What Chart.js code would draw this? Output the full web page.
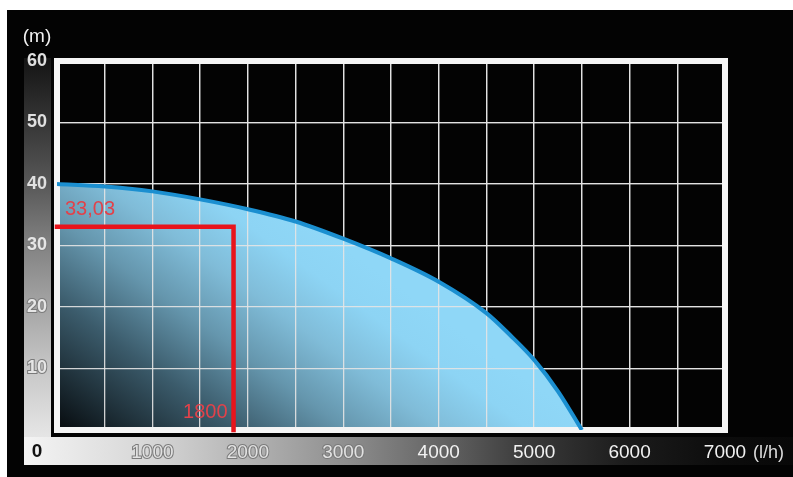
<!DOCTYPE html>
<html><head><meta charset="utf-8">
<script src="https://cdn.jsdelivr.net/npm/chart.js@4.4.1/dist/chart.umd.min.js"></script>
<style>html,body{margin:0;padding:0;background:#fff;}canvas{display:block;}</style>
</head><body>
<canvas id="c" width="793" height="477"></canvas>
<script>
// ---- data ----
const flowLh = [0, 500, 1000, 1500, 2000, 2500, 3000, 3500, 4000, 4500, 4750, 5000, 5250, 5500];
const headM  = [40, 39.6, 38.8, 37.5, 35.9, 33.9, 31.1, 27.9, 24.1, 19.0, 15.4, 11.4, 6.3, 0];
const xTickValues = [0, 1000, 2000, 3000, 4000, 5000, 6000, 7000];
const yTickValues = [0, 10, 20, 30, 40, 50, 60];
const opFlow = 1850;
const opHead = 33.03;
const opFlowLabel = '1800';
const opHeadLabel = '33,03';
const xUnitLabel = '(l/h)';
const yUnitLabel = '(m)';
const xZeroLabel = '0';

const FONT = '"Liberation Sans", Arial, sans-serif';
const curvePoints = flowLh.map((x, i) => ({x: x, y: headM[i]}));
const opPoints = [{x: 0, y: opHead}, {x: opFlow, y: opHead}, {x: opFlow, y: 0}];

function fillGradient(ctx) {
  const chart = ctx.chart; const a = chart.chartArea;
  if (!a) return '#8fd5f4';
  const g = chart.ctx.createLinearGradient(a.left, a.bottom + 10, a.left + 190, a.bottom - 253);
  g.addColorStop(0, '#020406');
  g.addColorStop(0.35, '#3b5b6b');
  g.addColorStop(0.55, '#6596ad');
  g.addColorStop(0.72, '#80bcd8');
  g.addColorStop(0.88, '#8dd4f4');
  g.addColorStop(1, '#8fd7f7');
  return g;
}

const backdrop = {
  id: 'backdrop',
  beforeDraw(chart) {
    const c = chart.ctx, W = chart.width, H = chart.height, a = chart.chartArea;
    c.save();
    c.fillStyle = '#ffffff'; c.fillRect(0, 0, W, H);
    c.fillStyle = '#030303'; c.fillRect(7, 10, W - 7, H - 10);
    // vertical gradient bar
    const top = a.top - 3, bot = a.bottom + 35;
    const yg = c.createLinearGradient(0, top, 0, bot);
    yg.addColorStop(0, '#141414');
    yg.addColorStop(0.16, '#363636');
    yg.addColorStop(0.31, '#585858');
    yg.addColorStop(0.46, '#828282');
    yg.addColorStop(0.61, '#a5a5a5');
    yg.addColorStop(0.76, '#c6c6c6');
    yg.addColorStop(0.91, '#e2e2e2');
    yg.addColorStop(1, '#efefef');
    c.fillStyle = yg; c.fillRect(24, top, 27, bot - top);
    // horizontal gradient bar
    const xg = c.createLinearGradient(24, 0, W, 0);
    xg.addColorStop(0, '#f4f4f4');
    xg.addColorStop(0.17, '#d5d5d5');
    xg.addColorStop(0.29, '#b4b4b4');
    xg.addColorStop(0.42, '#8e8e8e');
    xg.addColorStop(0.54, '#656565');
    xg.addColorStop(0.65, '#3c3c3c');
    xg.addColorStop(0.78, '#1c1c1c');
    xg.addColorStop(0.91, '#0c0c0c');
    xg.addColorStop(1, '#080808');
    c.fillStyle = xg; c.fillRect(24, a.bottom + 7, W - 24, 28);
    // unit labels
    c.textBaseline = 'middle';
    c.font = '19px ' + FONT; c.fillStyle = '#f0f0f0'; c.textAlign = 'center';
    c.fillText(yUnitLabel, 37, 37);
    c.font = '18px ' + FONT; c.fillStyle = '#dddddd'; c.textAlign = 'left';
    c.fillText(xUnitLabel, 753, a.bottom + 23);
    c.font = 'bold 19px ' + FONT; c.fillStyle = '#111111'; c.textAlign = 'center';
    c.fillText(xZeroLabel, 37, a.bottom + 22);
    c.restore();
  },
  afterDatasetDraw(chart, args) {
    if (args.index !== 2) return;
    const a = chart.chartArea, c = chart.ctx;
    ['x', 'y'].forEach(id => {
      const s = chart.scales[id];
      if (s && typeof s.drawGrid === 'function') s.drawGrid(a);
    });
    c.save();
    c.strokeStyle = '#f5f5f5'; c.lineWidth = 6;
    c.strokeRect(a.left, a.top, a.right - a.left, a.bottom - a.top);
    c.restore();
  },
  afterDraw(chart) {
    const c = chart.ctx, xs = chart.scales.x, ys = chart.scales.y;
    c.save();
    c.fillStyle = '#e2424a'; c.font = '20px ' + FONT; c.textBaseline = 'middle';
    c.textAlign = 'left';
    c.fillText(opHeadLabel, xs.getPixelForValue(0) + 8, ys.getPixelForValue(opHead) - 17);
    c.textAlign = 'right';
    c.fillText(opFlowLabel, xs.getPixelForValue(opFlow) - 6, ys.getPixelForValue(0) - 18);
    c.restore();
  }
};

const gridOpts = {color: 'rgba(228,228,228,0.9)', lineWidth: 1.3, drawTicks: false};

new Chart(document.getElementById('c'), {
  type: 'line',
  data: {
    datasets: [
      {label: 'op', data: opPoints, borderColor: '#e8141c', borderWidth: 4.5, pointRadius: 0,
       tension: 0, fill: false, clip: false, borderCapStyle: 'square', borderJoinStyle: 'miter'},
      {label: 'curve', data: curvePoints, borderColor: '#1b8fd0', borderWidth: 4, pointRadius: 0,
       cubicInterpolationMode: 'monotone', fill: false},
      {label: 'area', data: curvePoints, borderWidth: 0, borderColor: 'rgba(0,0,0,0)', pointRadius: 0,
       cubicInterpolationMode: 'monotone', fill: 'origin', backgroundColor: fillGradient}
    ]
  },
  options: {
    responsive: false,
    devicePixelRatio: 1,
    animation: false,
    layout: {padding: {left: 0, right: 68, top: 61, bottom: 0}},
    plugins: {legend: {display: false}, tooltip: {enabled: false}},
    scales: {
      x: {
        type: 'linear', position: 'bottom', min: 0, max: 7000,
        afterFit(s) { s.height = 47; },
        grid: gridOpts, border: {display: false},
        ticks: {
          stepSize: 500, autoSkip: false, maxRotation: 0, minRotation: 0, padding: 11,
          callback: v => (xTickValues.includes(v) && v !== 0) ? String(v) : '',
          color: ctx => (ctx.tick && ctx.tick.value <= 3000) ? '#e2e2e2' : '#f2f2f2',
          textStrokeColor: '#7a7a7a',
          textStrokeWidth: ctx => (ctx.tick && ctx.tick.value <= 3000) ? 2 : 0,
          font: {family: FONT, size: 19}
        }
      },
      y: {
        type: 'linear', min: 0, max: 60,
        afterFit(s) { s.width = 57; },
        grid: gridOpts, border: {display: false},
        ticks: {
          stepSize: 10, autoSkip: false, padding: 10, crossAlign: 'near',
          callback: v => (yTickValues.includes(v) && v !== 0) ? String(v) : '',
          color: ctx => (ctx.tick && ctx.tick.value <= 30) ? '#e6e6e6' : '#e0e0e0',
          textStrokeColor: '#7a7a7a',
          textStrokeWidth: ctx => (ctx.tick && ctx.tick.value <= 30) ? 2 : 0,
          font: {family: FONT, size: 18, weight: 'bold'}
        }
      }
    }
  },
  plugins: [backdrop]
});
</script>
</body></html>
